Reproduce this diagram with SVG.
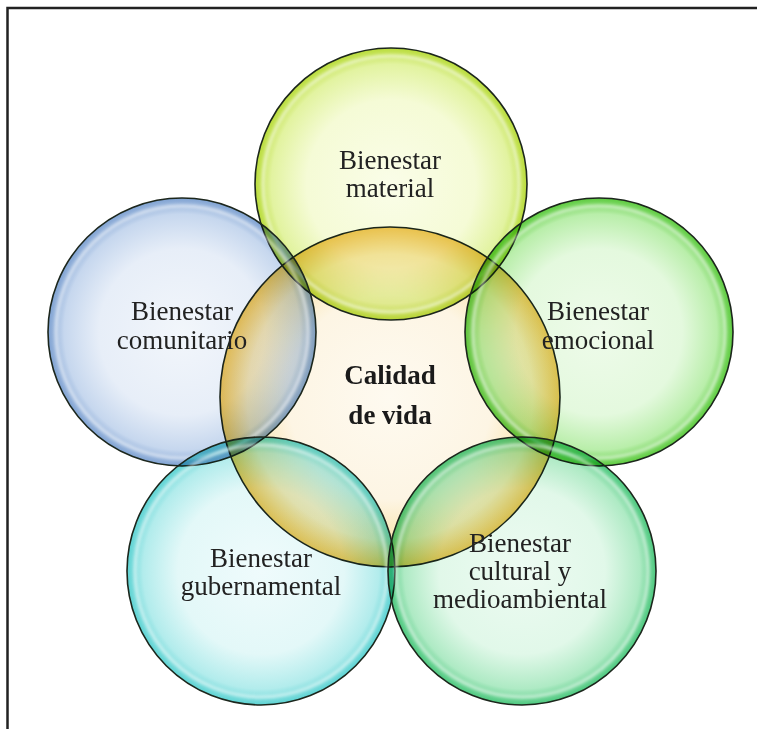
<svg xmlns="http://www.w3.org/2000/svg" width="757" height="729" viewBox="0 0 757 729">
<style>
.lbl{font-family:"Liberation Serif","Times New Roman",serif;font-size:27px;fill:#222222;text-anchor:middle}
.ctr{font-family:"Liberation Serif","Times New Roman",serif;font-size:27px;font-weight:bold;fill:#1a1a1a;text-anchor:middle}
.fill{mix-blend-mode:multiply}
.edge{fill:none;stroke:#1c261c;stroke-width:1.6}
.hl{fill:none;stroke:#ffffff;stroke-width:3;opacity:0.55;filter:url(#soft)}
</style>
<defs>
<filter id="soft" x="-10%" y="-10%" width="120%" height="120%"><feGaussianBlur stdDeviation="1.5"/></filter>
<radialGradient id="gC"><stop offset="0" stop-color="#fefaf0"/><stop offset="0.6" stop-color="#fdf5e4"/><stop offset="0.84" stop-color="#fae6b2"/><stop offset="1" stop-color="#f1c457"/></radialGradient>
<radialGradient id="gT"><stop offset="0" stop-color="#fafde8"/><stop offset="0.62" stop-color="#f5fbd6"/><stop offset="0.88" stop-color="#e2f3a0"/><stop offset="1" stop-color="#b9dc3a"/></radialGradient>
<radialGradient id="gL"><stop offset="0" stop-color="#f2f6fb"/><stop offset="0.62" stop-color="#e7eef8"/><stop offset="0.88" stop-color="#c6d7ee"/><stop offset="1" stop-color="#7fa2d2"/></radialGradient>
<radialGradient id="gR"><stop offset="0" stop-color="#eefbea"/><stop offset="0.62" stop-color="#e4f9de"/><stop offset="0.88" stop-color="#b9eeaa"/><stop offset="1" stop-color="#5ccb3e"/></radialGradient>
<radialGradient id="gBL"><stop offset="0" stop-color="#effbfc"/><stop offset="0.62" stop-color="#e3f8f8"/><stop offset="0.88" stop-color="#b2ecec"/><stop offset="1" stop-color="#5dd3d3"/></radialGradient>
<radialGradient id="gBR"><stop offset="0" stop-color="#edfbf2"/><stop offset="0.62" stop-color="#e1f8e9"/><stop offset="0.88" stop-color="#aeeac4"/><stop offset="1" stop-color="#4cc87e"/></radialGradient>
</defs>
<rect x="7.5" y="8" width="770" height="760" fill="#ffffff" stroke="#222222" stroke-width="2.5"/>
<g id="center">
<circle cx="390" cy="397" r="170" fill="url(#gC)"/>
<circle class="edge" cx="390" cy="397" r="170"/>
</g>
<g id="material">
<circle class="fill" cx="391" cy="184" r="136" fill="url(#gT)"/>
<circle class="hl" cx="391" cy="184" r="128"/>
<circle class="edge" cx="391" cy="184" r="136"/>
</g>
<g id="comunitario">
<circle class="fill" cx="182" cy="332" r="134" fill="url(#gL)"/>
<circle class="hl" cx="182" cy="332" r="126"/>
<circle class="edge" cx="182" cy="332" r="134"/>
</g>
<g id="emocional">
<circle class="fill" cx="599" cy="332" r="134" fill="url(#gR)"/>
<circle class="hl" cx="599" cy="332" r="126"/>
<circle class="edge" cx="599" cy="332" r="134"/>
</g>
<g id="gubernamental">
<circle class="fill" cx="261" cy="571" r="134" fill="url(#gBL)"/>
<circle class="hl" cx="261" cy="571" r="126"/>
<circle class="edge" cx="261" cy="571" r="134"/>
</g>
<g id="cultural">
<circle class="fill" cx="522" cy="571" r="134" fill="url(#gBR)"/>
<circle class="hl" cx="522" cy="571" r="126"/>
<circle class="edge" cx="522" cy="571" r="134"/>
</g>
<g id="labels">
<text class="lbl" x="390" y="169">Bienestar</text>
<text class="lbl" x="390" y="197">material</text>
<text class="lbl" x="182" y="320">Bienestar</text>
<text class="lbl" x="182" y="349">comunitario</text>
<text class="lbl" x="598" y="320">Bienestar</text>
<text class="lbl" x="598" y="349">emocional</text>
<text class="lbl" x="261" y="567">Bienestar</text>
<text class="lbl" x="261" y="595">gubernamental</text>
<text class="lbl" x="520" y="552">Bienestar</text>
<text class="lbl" x="520" y="580">cultural y</text>
<text class="lbl" x="520" y="608">medioambiental</text>
<text class="ctr" x="390" y="384">Calidad</text>
<text class="ctr" x="390" y="424">de vida</text>
</g>
</svg>
